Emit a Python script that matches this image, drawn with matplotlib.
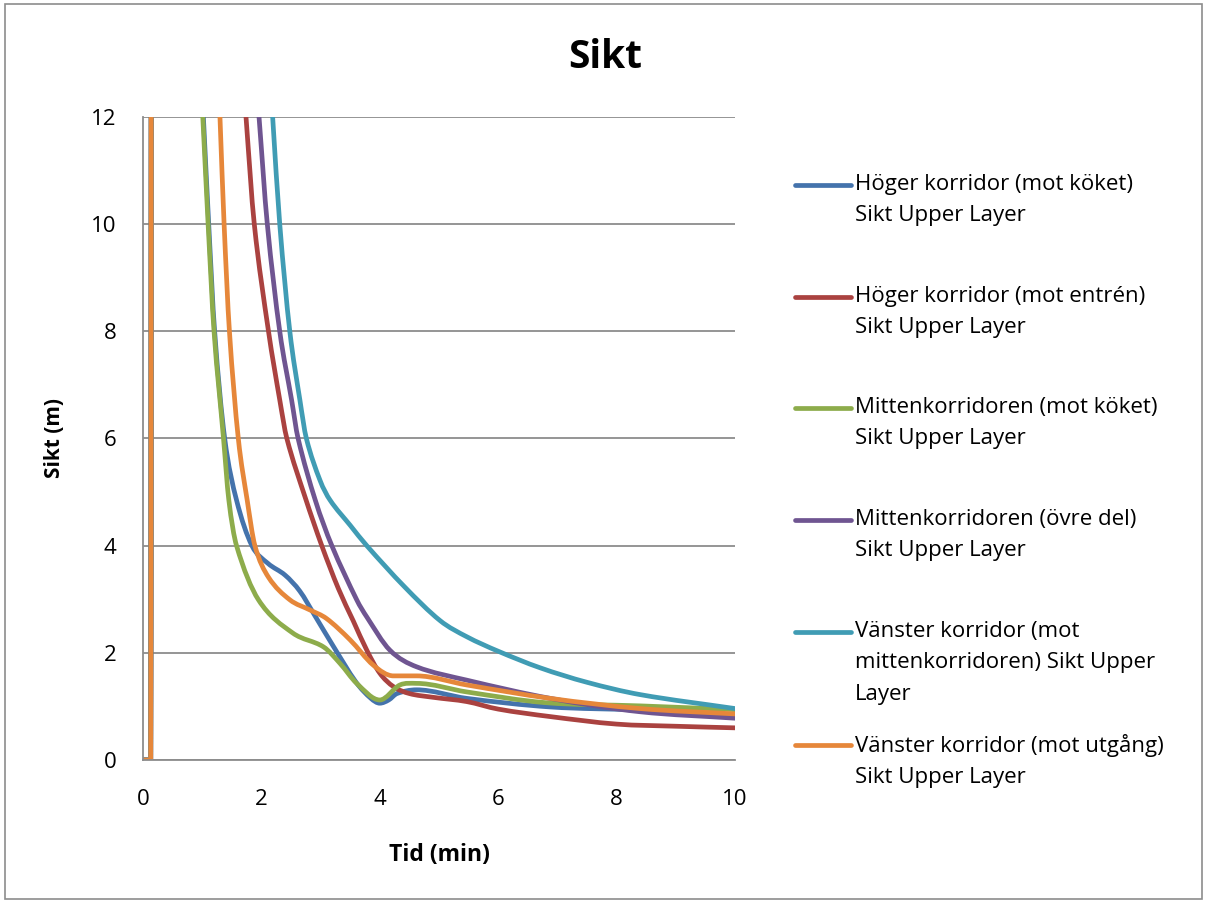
import numpy as np
import matplotlib.pyplot as plt
from matplotlib.lines import Line2D
from matplotlib.patches import Rectangle, PathPatch
from matplotlib.path import Path

plt.rcParams['font.family'] = ['Open Sans', 'DejaVu Sans']

# Time (min) and visibility (m) per corridor; values above 12 are clipped by the axis
hoger_kok_t = [0, 0.13, 0.15, 0.91, 1.02, 1.11, 1.21, 1.38, 1.58, 1.84, 2.11, 2.4, 2.65, 2.9,
               3.2, 3.6, 3.85, 4.0, 4.15, 4.29, 4.62, 5.47, 6.88, 8.4, 10]
hoger_kok_v = [0, 0, 30, 14.4, 12, 10, 8, 6, 4.85, 4.0, 3.67, 3.45, 3.15, 2.7,
               2.15, 1.45, 1.15, 1.06, 1.12, 1.24, 1.31, 1.15, 0.99, 0.93, 0.82]

hoger_entre_t = [0, 0.13, 0.15, 1.58, 1.74, 1.88, 2.12, 2.31, 2.43, 2.74, 3.02, 3.3, 3.55,
                 3.78, 4.0, 4.23, 4.5, 4.9, 5.47, 6.0, 6.88, 8.0, 9.0, 10]
hoger_entre_v = [0, 0, 30, 14.5, 12, 10, 8, 6.72, 6, 4.9, 4.0, 3.2, 2.6,
                 2.05, 1.62, 1.37, 1.24, 1.17, 1.09, 0.95, 0.81, 0.67, 0.63, 0.60]

mitten_kok_t = [0, 0.13, 0.15, 0.9, 1.01, 1.10, 1.20, 1.36, 1.45, 1.58, 1.95, 2.53, 3.05,
                3.33, 3.61, 4.0, 4.34, 4.62, 5.47, 6.8, 8.4, 10]
mitten_kok_v = [0, 0, 30, 14.4, 12, 10, 8, 6, 4.85, 4.0, 2.99, 2.37, 2.11,
                1.80, 1.43, 1.12, 1.40, 1.43, 1.27, 1.07, 1.01, 0.94]

mitten_ovre_t = [0, 0.13, 0.15, 1.80, 1.96, 2.10, 2.31, 2.51, 2.62, 2.91, 3.19, 3.61, 3.78,
                 4.17, 4.62, 5.47, 6.88, 8.4, 10]
mitten_ovre_v = [0, 0, 30, 14.3, 12, 10, 8, 6.72, 6, 4.85, 4.0, 2.99, 2.67,
                 2.05, 1.74, 1.49, 1.15, 0.90, 0.78]

vanster_mitt_t = [0, 0.13, 0.15, 2.06, 2.19, 2.31, 2.48, 2.65, 2.76, 2.99, 3.16, 3.5, 3.78,
                  4.42, 5.02, 5.47, 6.0, 6.71, 7.5, 8.4, 10]
vanster_mitt_v = [0, 0, 30, 14.2, 12, 10, 8, 6.72, 6, 5.22, 4.85, 4.38, 4.0,
                  3.23, 2.6, 2.3, 2.03, 1.72, 1.45, 1.22, 0.96]

vanster_utg_t = [0, 0.13, 0.15, 1.22, 1.30, 1.37, 1.46, 1.61, 1.76, 1.89, 2.12, 2.48, 2.82,
                 3.10, 3.50, 3.89, 4.23, 4.62, 5.47, 6.88, 8.4, 10]
vanster_utg_v = [0, 0, 30, 14.3, 12, 10, 8, 6, 4.85, 4.0, 3.41, 2.99, 2.80,
                 2.64, 2.24, 1.77, 1.57, 1.57, 1.40, 1.15, 0.96, 0.86]

labels = [
    'Höger korridor (mot köket)\nSikt Upper Layer',
    'Höger korridor (mot entrén)\nSikt Upper Layer',
    'Mittenkorridoren (mot köket)\nSikt Upper Layer',
    'Mittenkorridoren (övre del)\nSikt Upper Layer',
    'Vänster korridor (mot\nmittenkorridoren) Sikt Upper\nLayer',
    'Vänster korridor (mot utgång)\nSikt Upper Layer',
]
colors = ['#4473AC', '#AA4240', '#8DAC4B', '#6F5591', '#409CB4', '#E6873A']

series = [(hoger_kok_t, hoger_kok_v), (hoger_entre_t, hoger_entre_v),
          (mitten_kok_t, mitten_kok_v), (mitten_ovre_t, mitten_ovre_v),
          (vanster_mitt_t, vanster_mitt_v), (vanster_utg_t, vanster_utg_v)]


def smooth_path(x, y):
    # Catmull-Rom style tangents, flattened at turning points, drawn as Bezier segments
    x = np.asarray(x, float)
    y = np.asarray(y, float)
    h = np.diff(x)
    d = np.diff(y) / h
    m = np.zeros_like(y)
    m[0], m[-1] = d[0], d[-1]
    for i in range(1, len(x) - 1):
        if d[i - 1] * d[i] > 0:
            m[i] = (y[i + 1] - y[i - 1]) / (x[i + 1] - x[i - 1])
    verts = [(x[0], y[0])]
    codes = [Path.MOVETO]
    for i in range(len(x) - 1):
        verts += [(x[i] + h[i] / 3, y[i] + m[i] * h[i] / 3),
                  (x[i + 1] - h[i] / 3, y[i + 1] - m[i + 1] * h[i] / 3),
                  (x[i + 1], y[i + 1])]
        codes += [Path.CURVE4] * 3
    return Path(verts, codes)


fig = plt.figure(figsize=(12.05, 9.02), dpi=100)
ax = fig.add_axes([143 / 1205, 1 - 760 / 902, (735 - 143) / 1205, (760 - 117) / 902])

for (t, v), c in zip(series, colors):
    ax.add_patch(PathPatch(smooth_path(t, v), fill=False, edgecolor=c, lw=3.4,
                           joinstyle='round', capstyle='round'))

ax.set_xlim(0, 10)
ax.set_ylim(0, 12)
ax.set_xticks(range(0, 11, 2))
ax.set_yticks(range(0, 13, 2))
ax.tick_params(length=0, labelsize=16)
ax.tick_params(axis='x', pad=21)
ax.tick_params(axis='y', pad=19)
ax.yaxis.grid(True, color='#8C8C8C', lw=1.3)
ax.set_axisbelow(True)
for s in ['top', 'right']:
    ax.spines[s].set_visible(False)
for s in ['left', 'bottom']:
    ax.spines[s].set_color('#8C8C8C')
    ax.spines[s].set_linewidth(1.3)

ax.set_xlabel('Tid (min)', fontsize=16.5, fontweight='bold', labelpad=24)
ax.set_ylabel('Sikt (m)', fontsize=15, fontweight='bold', labelpad=19)
fig.text(605 / 1205, 1 - 57 / 902, 'Sikt', fontsize=28, fontweight='bold',
         ha='center', va='center')

# legend drawn by hand so the key sits beside the first text line
legend_y = [185, 297, 408, 520, 632, 745]
for lab, c, y in zip(labels, colors, legend_y):
    fy = 1 - y / 902
    fig.add_artist(Line2D([795 / 1205, 851 / 1205], [fy, fy], transform=fig.transFigure,
                          color=c, lw=3.4, solid_capstyle='round'))
    fig.text(855 / 1205, 1 - (y - 11) / 902, lab, fontsize=16, va='top', ha='left',
             linespacing=1.65)

fig.add_artist(Rectangle((5 / 1205, 3 / 902), 1197 / 1205, 895 / 902, transform=fig.transFigure,
                         fill=False, edgecolor='#8C8C8C', lw=1.2))

fig.savefig('out.png', dpi=100)
